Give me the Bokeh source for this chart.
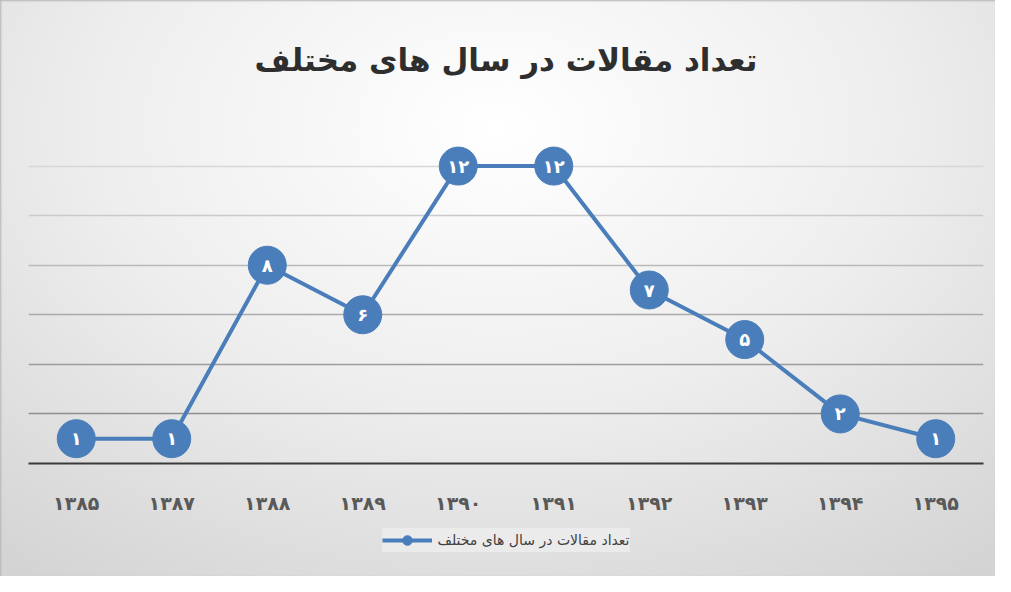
from bokeh.plotting import figure
from bokeh.layouts import column
from bokeh.models import ColumnDataSource, Legend, LegendItem, Title, Grid, FixedTicker
from bokeh.core.properties import value
from bokeh.embed import file_html
from bokeh.resources import INLINE

years = ["۱۳۸۵", "۱۳۸۷", "۱۳۸۸", "۱۳۸۹", "۱۳۹۰", "۱۳۹۱", "۱۳۹۲", "۱۳۹۳", "۱۳۹۴", "۱۳۹۵"]
counts = [1, 1, 8, 6, 12, 12, 7, 5, 2, 1]
series_name = "تعداد مقالات در سال های مختلف"
title_text = "تعداد مقالات در سال های مختلف"
grid_levels = [2, 4, 6, 8, 10, 12, 14]
grid_colors = ["#8e8e8e", "#9c9c9c", "#aaaaaa", "#bababa", "#cacaca", "#d8d8d8", "#e2e2e2"]

fa_digits = str.maketrans("0123456789", "۰۱۲۳۴۵۶۷۸۹")
labels = [str(v).translate(fa_digits) for v in counts]

src = ColumnDataSource(dict(x=years, y=counts, lab=labels))

FONT = "DejaVu Sans"
BLUE = "#4a7ebb"

p = figure(x_range=years, y_range=(0, 14), width=995, height=518,
           output_backend="svg", toolbar_location=None,
           min_border_left=28, min_border_right=12, min_border_top=113, min_border_bottom=55)
p.background_fill_alpha = 0
p.border_fill_alpha = 0
p.outline_line_color = None

p.add_layout(Title(text=title_text, align="center", text_font=FONT, text_font_size="31px",
                   text_font_style="bold", text_color="#2e2e2e", standoff=78), "above")

p.yaxis.visible = False
p.xgrid.grid_line_color = None
p.ygrid.grid_line_color = None
for lvl, col in zip(grid_levels, grid_colors):
    p.add_layout(Grid(dimension=1, ticker=FixedTicker(ticks=[lvl]), grid_line_color=col, grid_line_width=1.5))

ax = p.xaxis[0]
ax.axis_line_color = "#3a3a3a"
ax.axis_line_width = 2
ax.major_tick_line_color = None
ax.minor_tick_line_color = None
ax.major_label_text_font = FONT
ax.major_label_text_font_size = "19px"
ax.major_label_text_font_style = "bold"
ax.major_label_text_color = "#595959"
ax.major_label_standoff = 22

ln = p.line("x", "y", source=src, line_color=BLUE, line_width=4)
sc = p.scatter("x", "y", source=src, size=38, fill_color=BLUE, line_color=BLUE)
p.text("x", "y", text="lab", source=src, text_align="center", text_baseline="middle",
       text_color="white", text_font=value(FONT), text_font_size="18px", text_font_style="bold")

# legend strip below the chart (series drawn outside its visible range, only its legend shows)
p2 = figure(width=995, height=58, x_range=years, y_range=(-2, -1),
            output_backend="svg", toolbar_location=None,
            x_axis_location=None, y_axis_location=None,
            min_border_left=0, min_border_right=0, min_border_top=0, min_border_bottom=0)
p2.grid.visible = False
p2.background_fill_alpha = 0
p2.border_fill_alpha = 0
p2.outline_line_color = None
lln = p2.line("x", "y", source=src, line_color=BLUE, line_width=4)
lsc = p2.scatter("x", "y", source=src, size=10, fill_color=BLUE, line_color=BLUE)
leg = Legend(items=[LegendItem(label=series_name, renderers=[lln, lsc])],
             location="top_center", orientation="horizontal",
             background_fill_color="#ebebeb", background_fill_alpha=1,
             border_line_color=None, label_text_font=FONT, label_text_font_size="14px",
             label_text_color="#404040", glyph_width=50, glyph_height=24, label_standoff=6,
             padding=8, margin=10)
p2.add_layout(leg, "center")

layout = column(p, p2, spacing=0,
                styles={"background": "radial-gradient(ellipse 80% 95% at 50% 22%, #ffffff 0%, #eeeeee 50%, #d4d4d4 100%)",
                        "box-shadow": "inset 1px 1px 2px #b5b5b5"})

open("out.html", "w").write(file_html(layout, INLINE))
